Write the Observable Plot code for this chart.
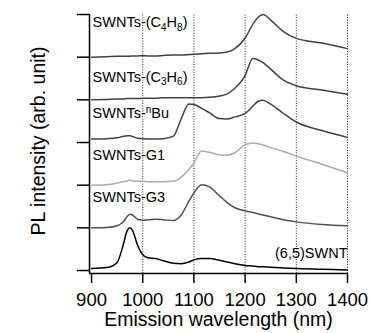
<!DOCTYPE html>
<html>
<head>
<meta charset="utf-8">
<script src="https://cdn.jsdelivr.net/npm/d3@7"></script>
<script src="https://cdn.jsdelivr.net/npm/@observablehq/plot@0.6"></script>
<style>
  html, body { margin: 0; padding: 0; background: #fff; }
  #chart { width: 372px; height: 333px; }
</style>
</head>
<body>
<div id="chart"></div>
<script>
// ---- data ----
const wavelength = [900, 930, 950, 960, 970, 975, 980, 990, 1000, 1010, 1025, 1040, 1060, 1075, 1090, 1100, 1115, 1130, 1150, 1165, 1180, 1200, 1215, 1225, 1235, 1250, 1275, 1300, 1350, 1400];

const seriesNames = ["(6,5)SWNT", "SWNTs-G3", "SWNTs-G1", "SWNTs-^nBu", "SWNTs-(C_3H_6)", "SWNTs-(C_4H_8)"];

const pl65   = [0.05, 0.07, 0.19, 0.52, 0.94, 1.00, 0.94, 0.59, 0.37, 0.30, 0.28, 0.23, 0.17, 0.16, 0.20, 0.25, 0.28, 0.28, 0.24, 0.20, 0.16, 0.12, 0.105, 0.09, 0.087, 0.075, 0.06, 0.047, 0.03, 0.012];
const plG3   = [0.00, 0.01, 0.05, 0.12, 0.27, 0.32, 0.30, 0.20, 0.18, 0.19, 0.20, 0.19, 0.17, 0.30, 0.62, 0.82, 1.01, 0.96, 0.75, 0.59, 0.47, 0.40, 0.36, 0.33, 0.30, 0.26, 0.19, 0.14, 0.08, 0.05];
const plG1   = [0.00, 0.01, 0.05, 0.08, 0.10, 0.12, 0.10, 0.09, 0.09, 0.08, 0.08, 0.08, 0.09, 0.19, 0.37, 0.52, 0.80, 0.77, 0.71, 0.70, 0.76, 0.95, 0.99, 0.97, 0.94, 0.88, 0.79, 0.68, 0.49, 0.29];
const plBu   = [0.08, 0.09, 0.11, 0.14, 0.16, 0.16, 0.14, 0.10, 0.09, 0.08, 0.08, 0.09, 0.15, 0.55, 0.90, 0.89, 0.80, 0.70, 0.56, 0.55, 0.60, 0.68, 0.85, 0.96, 0.99, 0.90, 0.68, 0.48, 0.28, 0.12];
const plC3H6 = [0.00, 0.01, 0.02, 0.02, 0.03, 0.03, 0.03, 0.03, 0.035, 0.04, 0.04, 0.05, 0.05, 0.05, 0.05, 0.05, 0.05, 0.06, 0.09, 0.14, 0.27, 0.57, 0.97, 0.94, 0.87, 0.72, 0.46, 0.33, 0.23, 0.13];
const plC4H8 = [0.00, 0.01, 0.02, 0.02, 0.02, 0.02, 0.03, 0.03, 0.035, 0.03, 0.03, 0.04, 0.05, 0.05, 0.06, 0.07, 0.08, 0.09, 0.10, 0.12, 0.20, 0.45, 0.77, 0.93, 1.00, 0.87, 0.60, 0.44, 0.33, 0.20];

const seriesValues = [pl65, plG3, plG1, plBu, plC3H6, plC4H8];
const seriesColors = ["#000000", "#505050", "#ababab", "#404040", "#404040", "#404040"];

const xTicks = [900, 1000, 1100, 1200, 1300, 1400];
const dottedAt = [1000, 1100, 1200, 1300, 1400];
const levelTicks = [0, 1, 2, 3, 4, 5, 6];

// label anchors (wavelength, stacked level)
const labelWavelength = [1400, 900, 900, 900, 900, 900];
const labelLevel = [0.40, 1.71, 2.70, 3.68, 4.53, 5.81];

// ---- build table: each trace offset by its stack index ----
const rows = [];
seriesNames.forEach((name, i) => {
  seriesValues[i].forEach((v, j) => rows.push({series: name, wl: wavelength[j], level: v + i}));
});
const labels = seriesNames.map((name, i) => ({name, wl: labelWavelength[i], level: labelLevel[i], end: i === 0}));

const yMin = -0.07, yMax = 6;
const font = "'Liberation Sans', Arial, Helvetica, sans-serif";

const chart = Plot.plot({
  width: 372,
  height: 333,
  marginLeft: 89,
  marginRight: 25,
  marginTop: 14,
  marginBottom: 60,
  style: {fontFamily: font, background: "#fff", color: "#000"},
  x: {domain: [896, 1400]},
  y: {domain: [yMin, yMax]},
  color: {domain: seriesNames, range: seriesColors},
  marks: [
    Plot.ruleX(dottedAt, {y1: yMin, y2: yMax, stroke: "#222", strokeWidth: 1, strokeDasharray: "1,1.6"}),
    Plot.line(rows, {x: "wl", y: "level", z: "series", stroke: "series", strokeWidth: 1.5, curve: "monotone-x"}),
    Plot.ruleX([896], {y1: yMin, y2: yMax, stroke: "#000", strokeWidth: 1.5}),
    Plot.ruleY([yMin], {x1: 896, x2: 1400, stroke: "#000", strokeWidth: 1.5}),
    Plot.axisX({ticks: xTicks, tickSize: 10, tickPadding: 9, fontSize: 18.5, strokeWidth: 1.5, tickFormat: d => String(d), label: null}),
    Plot.axisY({ticks: levelTicks, tickSize: 12, strokeWidth: 1.5, tickFormat: () => "", label: null}),
    Plot.text(labels.filter(d => !d.end), {x: "wl", y: "level", text: "name", textAnchor: "start", dx: 1, fontSize: 14.5, fill: "#000"}),
    Plot.text(labels.filter(d => d.end), {x: "wl", y: "level", text: "name", textAnchor: "end", fontSize: 14.5, fill: "#000"}),
    Plot.text(["Emission wavelength (nm)"], {frameAnchor: "bottom", textAnchor: "middle", lineAnchor: "middle", dy: 46, fontSize: 19.5, fill: "#000"}),
    Plot.text(["PL intensity (arb. unit)"], {frameAnchor: "left", textAnchor: "middle", lineAnchor: "middle", dx: -51, dy: -3, rotate: -90, fontSize: 19.5, fill: "#000"})
  ]
});

// rich text: _x -> subscript, ^x -> superscript
const svgns = "http://www.w3.org/2000/svg";
d3.select(chart).selectAll("text").each(function() {
  const s = this.textContent;
  if (!/[_^]/.test(s)) return;
  const parts = [];
  let buf = "";
  for (let k = 0; k < s.length; k++) {
    const c = s[k];
    if (c === "_" || c === "^") {
      if (buf) parts.push({t: buf, m: 0});
      buf = "";
      parts.push({t: s[k + 1], m: c === "_" ? 1 : -1});
      k++;
    } else buf += c;
  }
  if (buf) parts.push({t: buf, m: 0});
  this.textContent = "";
  let cur = 0;
  parts.forEach((p) => {
    const ts = document.createElementNS(svgns, "tspan");
    const off = p.m === 1 ? 3.5 : p.m === -1 ? -5 : 0;
    if (off - cur !== 0) ts.setAttribute("dy", off - cur);
    cur = off;
    if (p.m) ts.setAttribute("font-size", "10");
    ts.textContent = p.t;
    this.appendChild(ts);
  });
});

document.getElementById("chart").appendChild(chart);
</script>
</body>
</html>
